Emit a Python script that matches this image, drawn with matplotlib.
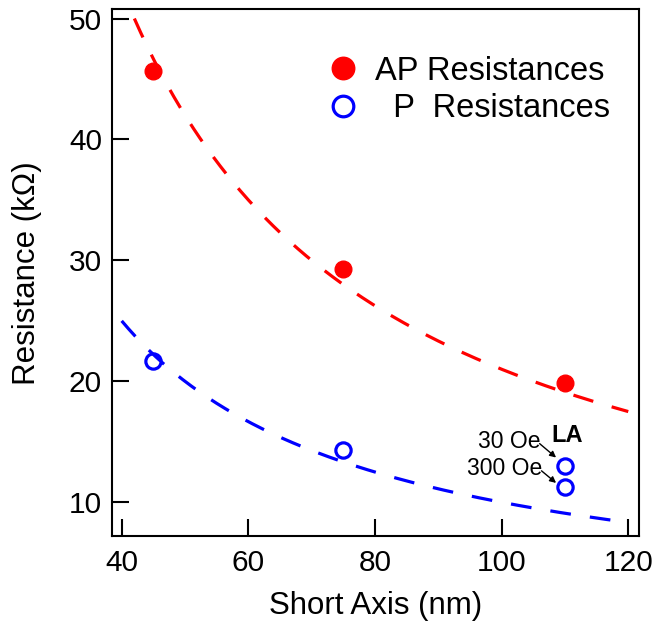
import numpy as np
import matplotlib
matplotlib.use('Agg')
import matplotlib.pyplot as plt

plt.rcParams['font.family'] = ['Liberation Sans', 'DejaVu Sans']

# measured points
short_axis = [45, 75, 110]
ap_res = [45.7, 29.3, 19.9]
p_res = [21.7, 14.3, 13.0]
p_res_la_300 = 11.3   # LA device, 300 Oe

# fits: R = A / x**n
ap_fit = (2100.0, 1.0)
p_fit = (1000.0, 1.0)
ap_fit_range = (42, 120)
p_fit_range = (40, 120)

xticks = [40, 60, 80, 100, 120]
yticks = [10, 20, 30, 40, 50]

fig = plt.figure(figsize=(6.55, 6.3), dpi=100)
ax = fig.add_axes([0.1705, 0.149, 0.8055, 0.836])

xa = np.linspace(ap_fit_range[0], ap_fit_range[1], 300)
xp = np.linspace(p_fit_range[0], p_fit_range[1], 300)
ax.plot(xa, ap_fit[0] / xa ** ap_fit[1], color='#ff0000', lw=2.3, ls=(0, (6.5, 6)))
ax.plot(xp, p_fit[0] / xp ** p_fit[1], color='#0000ff', lw=2.3, ls=(0, (6.5, 6)))

ax.plot(short_axis, ap_res, 'o', color='#ff0000', ms=12, label='AP Resistances')
ax.plot(short_axis, p_res, 'o', mfc='none', mec='#0000ff', mew=2.3, ms=11,
        label='  P  Resistances')
ax.plot([short_axis[2]], [p_res_la_300], 'o', mfc='none', mec='#0000ff', mew=2.3, ms=11)

# annotations for the LA device
ax.text(106.1, 15.0, '30 Oe', fontsize=16.5, ha='right', va='center')
ax.text(106.4, 12.8, '300 Oe', fontsize=16.5, ha='right', va='center')
ax.text(110.3, 15.5, 'LA', fontsize=17, fontweight='bold', ha='center', va='center')
arrow = dict(arrowstyle='-|>', lw=1.0, color='black', mutation_scale=9, shrinkA=0, shrinkB=0)
ax.annotate('', xy=(108.6, 13.7), xytext=(106.0, 14.85), arrowprops=arrow)
ax.annotate('', xy=(108.6, 11.6), xytext=(106.3, 12.6), arrowprops=arrow)

ax.set_xlim(38.42, 121.74)
ax.set_ylim(7.2, 50.75)
ax.set_xticks(xticks)
ax.set_yticks(yticks)
ax.tick_params(direction='in', length=12, width=1.5, labelsize=21.5)
ax.tick_params(axis='x', pad=9)
ax.tick_params(axis='y', pad=7)
for s in ax.spines.values():
    s.set_linewidth(1.5)

ax.set_xlabel('Short Axis (nm)', fontsize=22.5)
ax.set_ylabel('Resistance (k\u03a9)', fontsize=22.5)
ax.xaxis.set_label_coords(0.5, -0.104)
ax.yaxis.set_label_coords(-0.133, 0.5)

ax.legend(loc='upper left', bbox_to_anchor=(0.407, 0.912), frameon=False,
          fontsize=23.5, markerscale=1.35, handlelength=1.0, handletextpad=0.5,
          labelspacing=0.2, borderpad=0, borderaxespad=0)

fig.savefig('out.png', dpi=100)
